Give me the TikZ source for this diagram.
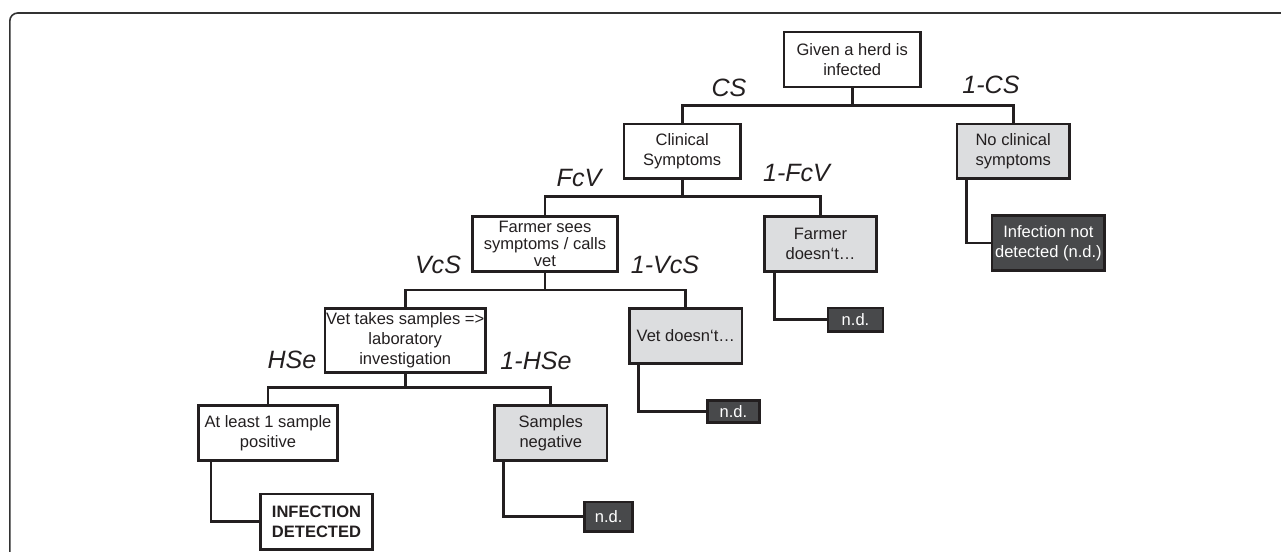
\documentclass[tikz,border=0pt]{standalone}
\usepackage{fontspec}
\setmainfont{Liberation Sans}
\definecolor{ink}{RGB}{35,31,32}
\definecolor{lightfill}{RGB}{220,221,223}
\definecolor{darkfill}{RGB}{72,73,75}
\definecolor{framecol}{RGB}{50,50,50}
\begin{document}
\begin{tikzpicture}[x=0.75pt,y=-0.75pt,
  box/.style n args={2}{draw=ink, line width=2pt, fill=white,
    minimum width=(#1-2.6)*0.75pt, minimum height=(#2-2.6)*0.75pt,
    inner sep=0pt, align=center, text=ink,
    font=\fontsize{12.4}{15}\selectfont},
  light/.style={fill=lightfill},
  dark/.style={fill=darkfill, text=white},
  lbl/.style={inner sep=0pt, text=ink, font=\fontsize{18.8}{20}\selectfont\itshape},
  conn/.style={draw=ink, line width=2pt}]
\useasboundingbox (0,0) rectangle (1281,552);
% outer frame
\draw[framecol, line width=1.2pt, rounded corners=6pt] (9.8,552) -- (9.8,13) -- (1281,13);

% nodes
\node[box={139}{57.6}] (root) at (852.2,59.5) {Given a herd is\\infected};
\node[box={119}{57.3}] (cs) at (682.2,151.35) {Clinical\\Symptoms};
\node[box={115}{57.3}, light] (ncs) at (1013.2,151.35) {No clinical\\symptoms};
\node[box={148}{57.7}, font=\fontsize{12.4}{12.75}\selectfont] (fsv) at (545,243.85) {Farmer sees\\symptoms / calls\\vet};
\node[box={115}{57.7}, light] (fd) at (820.5,243.85) {Farmer\\doesn‘t…};
\node[box={115.3}{57.4}, dark] (ind) at (1048.35,243) {Infection not\\detected (n.d.)};
\node[box={162.9}{67}] (vts) at (405.25,340.5) {Vet takes samples =>\\laboratory\\investigation};
\node[box={115}{58}, light] (vd) at (685.8,336) {Vet doesn‘t…};
\node[box={57.6}{26}, dark] (ndf) at (855.5,319.7) {n.d.};
\node[box={54.7}{25}, dark] (ndv) at (733.35,411.5) {n.d.};
\node[box={141.4}{57.7}] (al) at (268,432.85) {At least 1 sample\\positive};
\node[box={115}{57.7}, light] (sn) at (550.8,432.85) {Samples\\negative};
\node[box={115}{58}, font=\fontsize{12.4}{15}\selectfont\bfseries] (det) at (316.5,521.7) {INFECTION\\DETECTED};
\node[box={50.7}{32}, dark] (nds) at (608.65,516.7) {n.d.};

% probability labels
\node[lbl] (lcs) at (729,88) {CS};
\node[lbl] (lncs) at (991,85) {1-CS};
\node[lbl] (lfcv) at (579,178) {FcV};
\node[lbl] (lnfcv) at (796.5,173) {1-FcV};
\node[lbl] (lvcs) at (438,265) {VcS};
\node[lbl] (lnvcs) at (665,265) {1-VcS};
\node[lbl] (lhse) at (292,360) {HSe};
\node[lbl] (lnhse) at (536,361) {1-HSe};

% junctions
\coordinate (j1) at (852.2,105.3);
\coordinate (j2) at (682.2,196.7);
\coordinate (j3) at (545,290);
\coordinate (j4) at (405.25,387.3);

% tree connectors
\draw[conn] (root.south) -- (j1);
\draw[conn] (cs.north) |- (j1) -| (ncs.north);
\draw[conn] (cs.south) -- (j2);
\draw[conn] (fsv.north) |- (j2) -| (fd.north);
\draw[conn] (fsv.south) -- (j3);
\draw[conn] (vts.north) |- (j3) -| (vd.north);
\draw[conn] (vts.south) -- (j4);
\draw[conn] (al.north) |- (j4) -| (sn.north);

% elbow connectors to outcomes
\draw[conn] ([xshift=8pt]ncs.south west) |- (ind.west);
\draw[conn] ([xshift=8.8pt]fd.south west) |- (ndf.west);
\draw[conn] ([xshift=7.7pt]vd.south west) |- (ndv.west);
\draw[conn] ([xshift=10.3pt]al.south west) |- (det.west);
\draw[conn] ([xshift=7.8pt]sn.south west) |- (nds.west);
\end{tikzpicture}
\end{document}
